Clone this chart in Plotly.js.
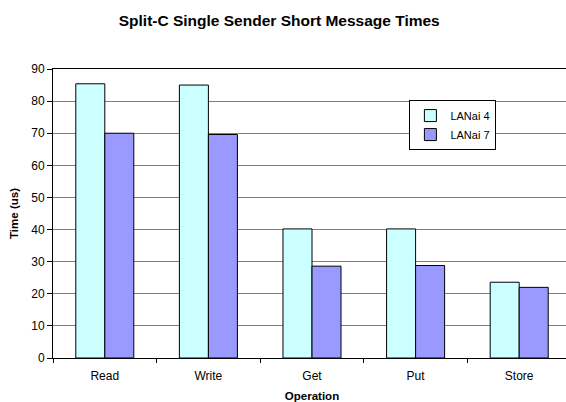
<!DOCTYPE html>
<html>
<head>
<meta charset="utf-8">
<script src="https://cdn.plot.ly/plotly-3.0.1.min.js"></script>
<style>
html,body{margin:0;padding:0;overflow:hidden;background:#fff;}
#chart{width:571px;height:402px;}
</style>
</head>
<body>
<div id="chart"></div>
<script>
const categories = ["Read", "Write", "Get", "Put", "Store"];
const lanai4 = [85.4, 85.0, 40.2, 40.2, 23.6];
const lanai7 = [70.0, 69.6, 28.6, 28.8, 22.0];
const seriesNames = ["LANai 4", "LANai 7"];

const font = "Arial, 'Liberation Sans', sans-serif";

const traces = [
  {type: "bar", name: seriesNames[0], x: categories, y: lanai4,
   marker: {color: "#CCFFFF", line: {color: "#000000", width: 1}}},
  {type: "bar", name: seriesNames[1], x: categories, y: lanai7,
   marker: {color: "#9999FF", line: {color: "#000000", width: 1}}}
];

const layout = {
  width: 571, height: 402,
  margin: {l: 53, r: 0, t: 69, b: 44},
  paper_bgcolor: "#ffffff", plot_bgcolor: "#ffffff",
  font: {family: font, size: 12, color: "#000"},
  title: {text: "<b>Split-C Single Sender Short Message Times</b>",
          font: {family: font, size: 15.5, color: "#000"},
          x: 0.489, xanchor: "center", y: 0.95, yanchor: "middle", yref: "container"},
  barmode: "group", bargap: 0.44, bargroupgap: 0,
  xaxis: {
    title: {text: "<b>Operation</b>", font: {family: font, size: 11.5}, standoff: 9},
    showline: true, linecolor: "#000", linewidth: 1, mirror: true,
    ticks: "outside", ticklen: 4, tickcolor: "#000", tickson: "boundaries",
    ticklabelstandoff: 7,
    tickfont: {size: 12}, showgrid: false, range: [-0.5, 4.5], automargin: false
  },
  yaxis: {
    title: {text: "<b>Time (us)</b>", font: {family: font, size: 11.5}, standoff: 10},
    range: [0, 90], dtick: 10, showline: true, linecolor: "#000", linewidth: 1,
    ticks: "outside", ticklen: 5, tickcolor: "#000",
    showgrid: true, gridcolor: "#808080", gridwidth: 1, zeroline: false,
    tickfont: {size: 12}, automargin: false
  },
  legend: {x: 0.772, y: 0.806, xanchor: "center", yanchor: "middle",
    bordercolor: "#000", borderwidth: 1, bgcolor: "#fff",
    font: {size: 11}, itemwidth: 30, tracegroupgap: 0},
  showlegend: true
};

Plotly.newPlot("chart", traces, layout, {displayModeBar: false, staticPlot: true});
</script>
</body>
</html>
